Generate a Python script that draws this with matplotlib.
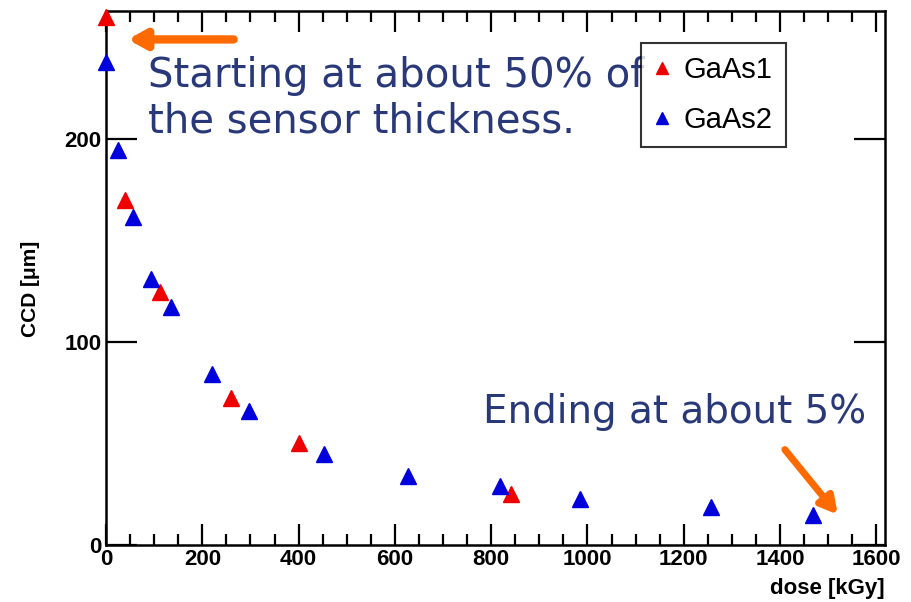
import matplotlib
matplotlib.use("Agg")
import matplotlib.pyplot as plt
from matplotlib.ticker import MultipleLocator, FixedLocator

# CCD vs. dose for the two GaAs sensors
gaas1_dose = [0, 39, 112, 259, 400, 841]
gaas1_ccd = [260, 170, 124.6, 72.4, 50, 25]

gaas2_dose = [0, 25, 56, 93, 135, 220, 298, 452, 628, 819, 984, 1256, 1469]
gaas2_ccd = [238, 194.6, 161.6, 131, 117, 84, 66, 45, 34, 29, 22.7, 18.7, 15]

note_color = "#283878"
arrow_color = "#ff6a00"
label_font = "Liberation Sans"

fig = plt.figure(figsize=(9.11, 6.02), dpi=100)
ax = fig.add_axes([0.1164, 0.0947, 0.855, 0.887])

ax.plot(gaas1_dose, gaas1_ccd, linestyle="none", marker="^", markersize=11.5,
        color="#ee0000", label="GaAs1", clip_on=False, zorder=5)
ax.plot(gaas2_dose, gaas2_ccd, linestyle="none", marker="^", markersize=11.5,
        color="#0000dd", label="GaAs2", clip_on=False, zorder=5)

ax.set_xlim(0, 1618)
ax.set_ylim(0, 263)

# ROOT-like frame: inward ticks on all four sides
ax.xaxis.set_major_locator(MultipleLocator(200))
ax.xaxis.set_minor_locator(MultipleLocator(50))
ax.yaxis.set_major_locator(FixedLocator([0, 100, 200]))
ax.tick_params(which="both", direction="in", top=True, right=True, width=1.6)
ax.tick_params(which="major", length=15, labelsize=16, pad=3)
ax.tick_params(axis="y", which="major", length=22)
ax.tick_params(which="minor", length=8)
for lbl in ax.get_xticklabels() + ax.get_yticklabels():
    lbl.set_fontweight("bold")
    lbl.set_family(label_font)
for sp in ax.spines.values():
    sp.set_linewidth(1.8)

ax.set_xlabel("dose [kGy]", fontsize=16, fontweight="bold", family=label_font)
ax.xaxis.set_label_coords(1.0, -0.062)
ax.xaxis.label.set_horizontalalignment("right")
ax.xaxis.label.set_verticalalignment("top")
ax.set_ylabel("CCD [\u03bcm]", fontsize=15, fontweight="bold", family=label_font)
ax.yaxis.set_label_coords(-0.085, 0.48)

leg = ax.legend(loc="upper left", bbox_to_anchor=(0.687, 0.94),
                prop={"family": label_font, "size": 21},
                handlelength=0.5, handletextpad=0.5, markerscale=0.75,
                frameon=True, fancybox=False, edgecolor="black",
                borderpad=0.45, borderaxespad=0, labelspacing=0.75)
leg.get_frame().set_linewidth(1.5)

ax.text(0.054, 0.915, "Starting at about 50% of\nthe sensor thickness.",
        transform=ax.transAxes, fontsize=29, color=note_color, family="DejaVu Sans",
        va="top", ha="left", linespacing=1.15, zorder=3)
ax.text(0.976, 0.213, "Ending at about 5%",
        transform=ax.transAxes, fontsize=28, color=note_color, family="DejaVu Sans",
        va="bottom", ha="right", zorder=3)

ax.annotate("", xy=(45, 249), xytext=(265, 249),
            arrowprops=dict(arrowstyle="-|>,head_length=1.0,head_width=0.55",
                            color=arrow_color, lw=6, shrinkA=0, shrinkB=0))
ax.annotate("", xy=(1520, 15), xytext=(1410, 47),
            arrowprops=dict(arrowstyle="-|>,head_length=1.0,head_width=0.55",
                            color=arrow_color, lw=5, shrinkA=0, shrinkB=0))

fig.savefig("out.png", dpi=100)
